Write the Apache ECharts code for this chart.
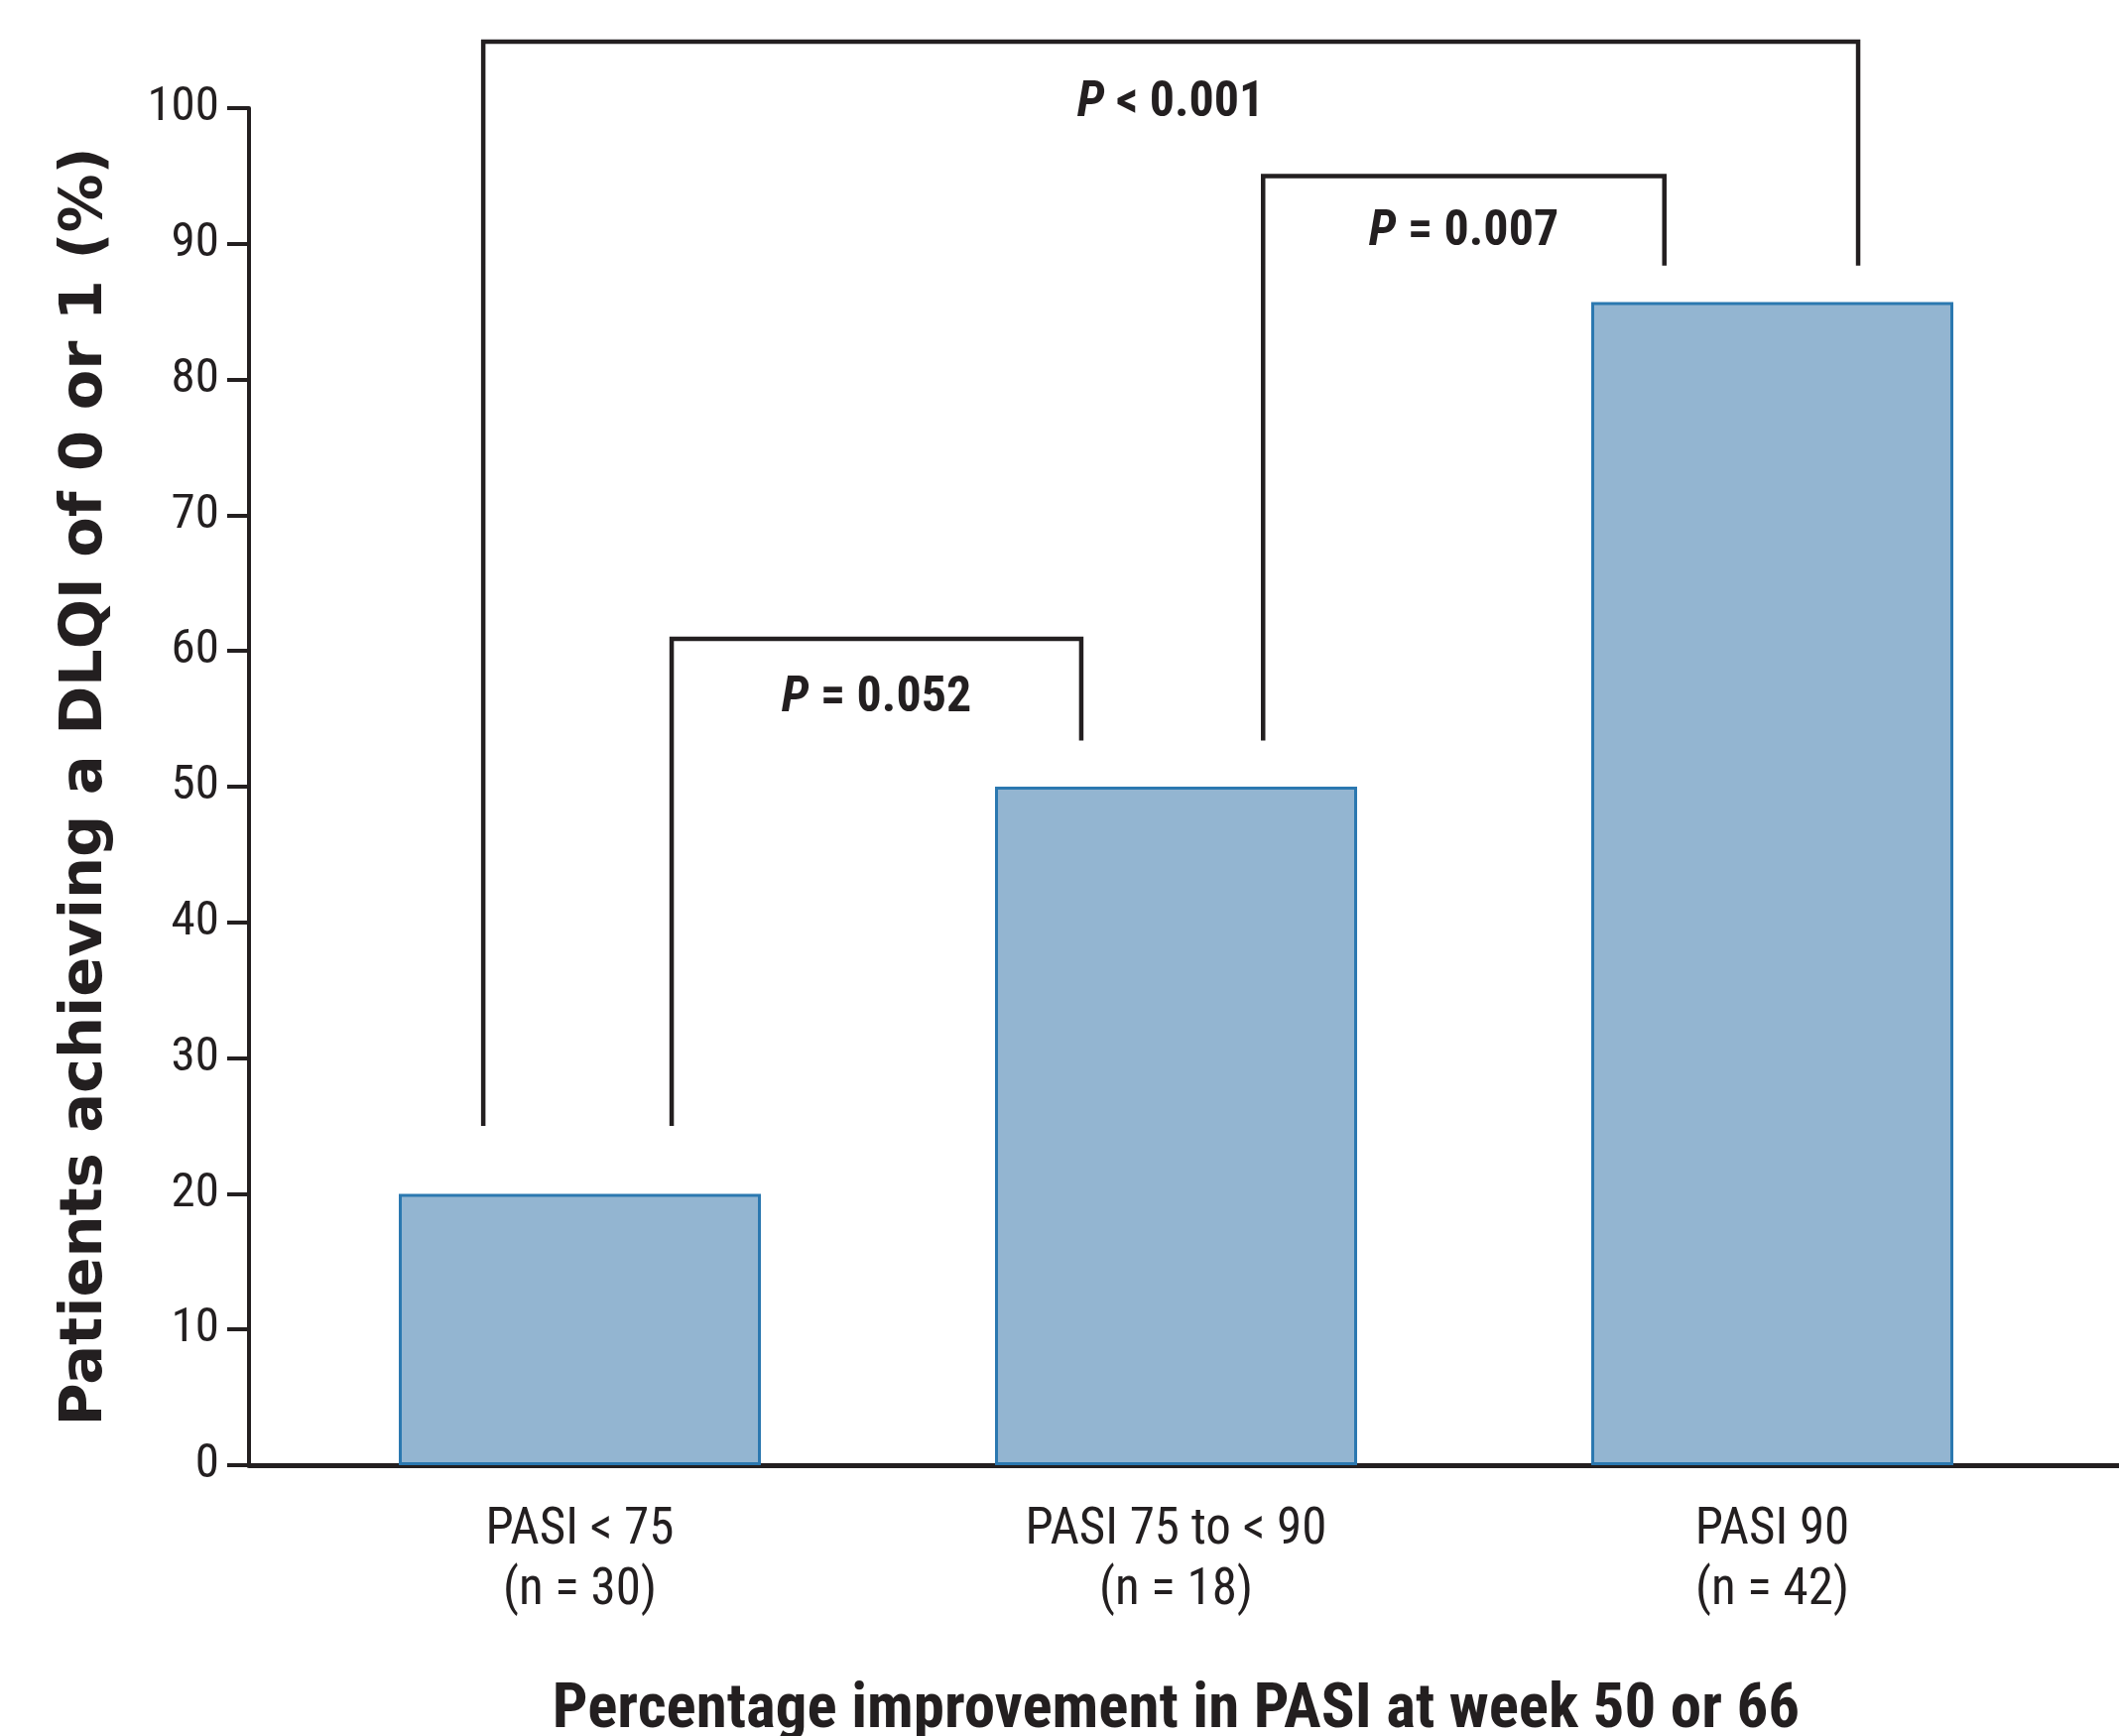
<!DOCTYPE html>
<html>
<head>
<meta charset="utf-8">
<script src="https://cdn.jsdelivr.net/npm/echarts@6/dist/echarts.min.js"></script>
<style>html,body{margin:0;padding:0;background:#fff}#c{width:2136px;height:1750px}</style>
</head>
<body>
<div id="c"></div>
<script>
// ---- data ----
const categories = ['PASI < 75\n(n = 30)', 'PASI 75 to < 90\n(n = 18)', 'PASI 90\n(n = 42)'];
const values = [20, 50, 85.7];
const yTicks = { min: 0, max: 100, interval: 10 };
// significance brackets (x in category-index units, y in %)
const bracketLeft = [0.154, 1.146, -0.162];
const bracketRight = [0.841, 1.819, 2.144];
const bracketTop = [60.9, 95, 104.9];
const bracketLeftEnd = [25, 53.4, 25];
const bracketRightEnd = [53.4, 88.4, 88.4];
const pText = ['= 0.052', '= 0.007', '< 0.001'];
const pLabelY = [56.5, 90.8, 100.3];

const narrow = "'Roboto Condensed','Liberation Sans Narrow','Liberation Sans',Arial,sans-serif";
const ink = '#231f20';

const bracketData = bracketLeft.map((l, i) => [l, bracketRight[i], bracketTop[i], bracketLeftEnd[i], bracketRightEnd[i], pLabelY[i], i]);

const chart = echarts.init(document.getElementById('c'), null, { renderer: 'canvas' });
chart.setOption({
  backgroundColor: '#fff',
  animation: false,
  grid: [
    { left: 251, right: 0, top: 109, bottom: 273, containLabel: false, outerBoundsMode: 'none' },
    { left: 284, width: 1803, top: 109, bottom: 273, containLabel: false, outerBoundsMode: 'none' }
  ],
  xAxis: [
    { type: 'value', gridIndex: 0, min: 0, max: 1, show: true,
      axisLine: { show: true, lineStyle: { color: ink, width: 5 } },
      axisTick: { show: false }, axisLabel: { show: false }, splitLine: { show: false } },
    { type: 'category', gridIndex: 1, data: categories,
      axisLine: { show: false }, axisTick: { show: false }, splitLine: { show: false },
      axisLabel: { margin: 36, color: ink, fontFamily: narrow, fontSize: 51, lineHeight: 61 },
      name: 'Percentage improvement in PASI at week 50 or 66',
      nameLocation: 'middle', nameGap: 217,
      nameTextStyle: { color: ink, fontFamily: narrow, fontWeight: 'bold', fontSize: 63 } },
    { type: 'value', gridIndex: 1, min: -0.5, max: 2.5, show: false }
  ],
  yAxis: [
    { type: 'value', gridIndex: 0, min: yTicks.min, max: yTicks.max, interval: yTicks.interval,
      axisLine: { show: true, lineStyle: { color: ink, width: 4 } },
      axisTick: { show: true, inside: false, length: 22, lineStyle: { color: ink, width: 4 } },
      axisLabel: { margin: 30, color: ink, fontFamily: narrow, fontSize: 49 },
      splitLine: { show: false },
      name: 'Patients achieving a DLQI of 0 or 1 (%)',
      nameLocation: 'middle', nameGap: 135, nameRotate: 90,
      nameTextStyle: { color: ink, fontFamily: "'DejaVu Sans',sans-serif", fontWeight: 'bold', fontSize: 59 } },
    { type: 'value', gridIndex: 1, min: yTicks.min, max: yTicks.max, show: false }
  ],
  series: [
    { type: 'bar', xAxisIndex: 1, yAxisIndex: 1, data: values, barWidth: 365,
      itemStyle: { color: '#93b5d1', borderColor: '#2b78b0', borderWidth: 3 } },
    { type: 'custom', xAxisIndex: 2, yAxisIndex: 1, clip: false, data: bracketData,
      renderItem: function (params, api) {
        const l = api.value(0), r = api.value(1), t = api.value(2);
        const le = api.value(3), re = api.value(4), ly = api.value(5);
        const idx = api.value(6);
        const p1 = api.coord([l, le]), p2 = api.coord([l, t]);
        const p3 = api.coord([r, t]), p4 = api.coord([r, re]);
        const pl = api.coord([(l + r) / 2, ly]);
        return {
          type: 'group',
          children: [
            { type: 'polyline', shape: { points: [p1, p2, p3, p4] },
              style: { stroke: ink, lineWidth: 4.5, fill: null, lineJoin: 'miter' } },
            { type: 'text', x: pl[0], y: pl[1],
              style: { text: '{i|P} {b|' + pText[idx] + '}', align: 'center', verticalAlign: 'middle',
                rich: {
                  i: { fontFamily: narrow, fontWeight: 'bold', fontStyle: 'italic', fontSize: 50, fill: ink },
                  b: { fontFamily: narrow, fontWeight: 'bold', fontSize: 50, fill: ink }
                },
                fontFamily: narrow, fontWeight: 'bold', fontSize: 50, fill: ink } }
          ]
        };
      } }
  ]
});
</script>
</body>
</html>
